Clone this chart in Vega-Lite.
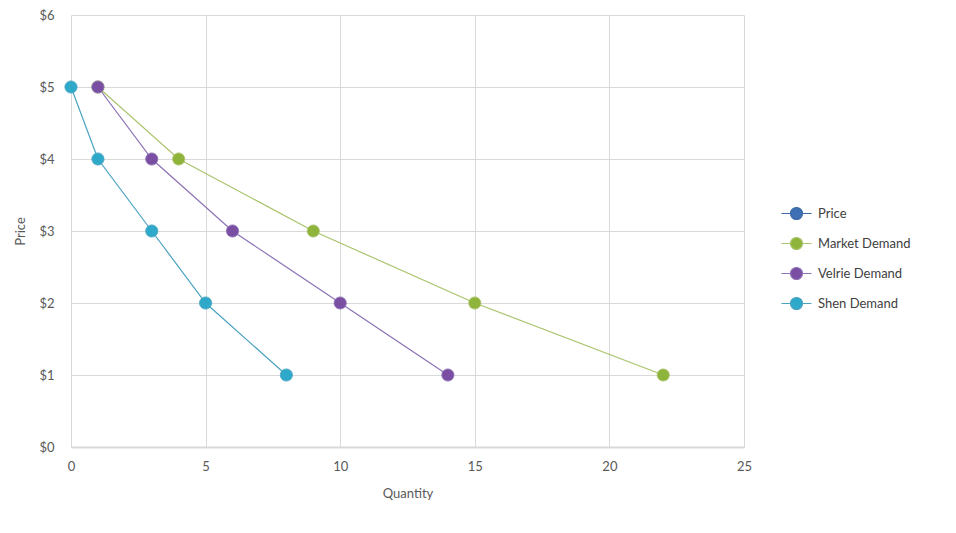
{
  "$schema": "https://vega.github.io/schema/vega-lite/v6.json",
  "width": 673,
  "height": 432,
  "autosize": "none",
  "padding": {"left": 71, "top": 15, "right": 212, "bottom": 86},
  "background": "white",
  "config": {
    "font": "Lato",
    "view": {"stroke": null},
    "axis": {"labelFont": "Lato", "titleFont": "Lato", "labelColor": "#595959", "titleColor": "#595959", "labelFontSize": 13, "titleFontSize": 13, "titleFontWeight": "normal", "gridColor": "#d9d9d9", "ticks": false, "domain": false, "labelFlush": false}
  },
  "data": {
    "values": [
      {"series": "Market Demand", "q": 1, "p": 5},
      {"series": "Market Demand", "q": 4, "p": 4},
      {"series": "Market Demand", "q": 9, "p": 3},
      {"series": "Market Demand", "q": 15, "p": 2},
      {"series": "Market Demand", "q": 22, "p": 1},
      {"series": "Velrie Demand", "q": 1, "p": 5},
      {"series": "Velrie Demand", "q": 3, "p": 4},
      {"series": "Velrie Demand", "q": 6, "p": 3},
      {"series": "Velrie Demand", "q": 10, "p": 2},
      {"series": "Velrie Demand", "q": 14, "p": 1},
      {"series": "Shen Demand", "q": 0, "p": 5},
      {"series": "Shen Demand", "q": 1, "p": 4},
      {"series": "Shen Demand", "q": 3, "p": 3},
      {"series": "Shen Demand", "q": 5, "p": 2},
      {"series": "Shen Demand", "q": 8, "p": 1}
    ]
  },
  "encoding": {
    "x": {"field": "q", "type": "quantitative", "title": "Quantity", "scale": {"domain": [0, 25], "nice": false}, "axis": {"values": [0, 5, 10, 15, 20, 25], "labelPadding": 13, "titlePadding": 14, "domain": true, "domainColor": "#d9d9d9", "domainWidth": 2}},
    "y": {"field": "p", "type": "quantitative", "title": "Price", "scale": {"domain": [0, 6], "nice": false}, "axis": {"values": [0, 1, 2, 3, 4, 5, 6], "format": "$.0f", "labelPadding": 17, "titlePadding": 11}}
  },
  "layer": [
    {
      "mark": {"type": "line", "strokeWidth": 1.2},
      "encoding": {
        "stroke": {"field": "series", "type": "nominal", "legend": null, "scale": {"domain": ["Price", "Market Demand", "Velrie Demand", "Shen Demand"], "range": ["#3d6aa6", "#a9c46c", "#8c72b4", "#4aa3c0"]}},
        "order": {"field": "p", "sort": "descending"}
      }
    },
    {
      "mark": {"type": "point", "filled": true, "size": 150, "opacity": 1, "strokeWidth": 0.8},
      "encoding": {
        "fill": {"field": "series", "type": "nominal", "scale": {"domain": ["Price", "Market Demand", "Velrie Demand", "Shen Demand"], "range": ["#3f6fb5", "#8fb43c", "#7a4ea3", "#2fa9c9"]},
          "legend": {"title": null, "orient": "none", "legendX": 719, "legendY": 192, "padding": 0, "symbolSize": 100, "symbolStrokeWidth": 1.2, "labelOffset": 15, "labelFontSize": 13, "labelColor": "#404040", "labelFont": "Lato", "rowPadding": 13,
            "encoding": {"symbols": {"shape": {"value": "M-3,0H-1.2M1.2,0A1.2,1.2 0 1,1 -1.2,0A1.2,1.2 0 1,1 1.2,0M1.2,0H3"}, "stroke": {"value": {"expr": "scale('stroke', datum.value)"}}, "strokeWidth": {"value": 1.2}}}}},
        "stroke": {"field": "series", "type": "nominal", "legend": null}
      }
    }
  ],
  "resolve": {"scale": {"fill": "independent"}}
}
